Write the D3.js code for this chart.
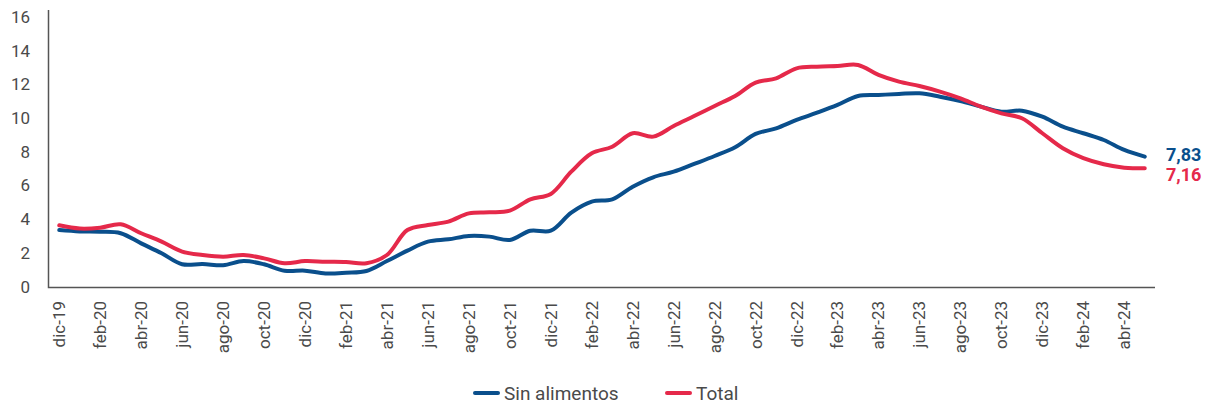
<!DOCTYPE html>
<html>
<head>
<meta charset="utf-8">
<script src="https://cdn.jsdelivr.net/npm/d3@7"></script>
<style>
  body { margin: 0; background: #fff; }
  text { font-family: Roboto, "Liberation Sans", sans-serif; }
</style>
</head>
<body>
<div class="chart"></div>
<script>
// monthly categories, dic-19 .. may-24
const months = ["ene", "feb", "mar", "abr", "may", "jun", "jul", "ago", "sep", "oct", "nov", "dic"];
const categories = ["dic-19"];
for (let y = 20; y <= 24; y++) {
  for (let m = 0; m < 12; m++) {
    if (y === 24 && m > 4) break;
    categories.push(months[m] + "-" + y);
  }
}

// values
const sinAlimentos = [3.36, 3.28, 3.26, 3.17, 2.57, 1.98, 1.33, 1.35, 1.27, 1.52,
  1.33, 0.95, 0.95, 0.79, 0.83, 0.93, 1.52, 2.14, 2.67, 2.81,
  3.01, 2.97, 2.77, 3.32, 3.32, 4.39, 5.04, 5.18, 5.93, 6.49,
  6.82, 7.28, 7.75, 8.27, 9.06, 9.39, 9.89, 10.32, 10.78, 11.31,
  11.37, 11.43, 11.47, 11.27, 11.01, 10.68, 10.38, 10.44, 10.08, 9.49,
  9.10, 8.70, 8.11, 7.71];
const total = [3.64, 3.45, 3.50, 3.70, 3.17, 2.67, 2.08, 1.88, 1.78, 1.88,
  1.68, 1.39, 1.52, 1.48, 1.46, 1.39, 1.88, 3.36, 3.66, 3.86,
  4.35, 4.41, 4.51, 5.18, 5.50, 6.82, 7.91, 8.30, 9.10, 8.90,
  9.53, 10.12, 10.72, 11.31, 12.10, 12.36, 12.95, 13.05, 13.09, 13.15,
  12.56, 12.16, 11.90, 11.57, 11.17, 10.68, 10.28, 9.99, 9.10, 8.21,
  7.62, 7.26, 7.06, 7.02];
const yTicks = [0, 2, 4, 6, 8, 10, 12, 14, 16];
const endLabels = ["7,83", "7,16"];

const series = [
  { name: "Sin alimentos", values: sinAlimentos, color: "#0a4f8c" },
  { name: "Total", values: total, color: "#e5294a" }
];

const width = 1206, height = 404;
const svg = d3.select(".chart").append("svg")
  .attr("width", width)
  .attr("height", height);

const x = d3.scaleBand().domain(categories).range([49, 1155]);
const y = d3.scaleLinear().domain([0, 16]).range([286.7, 16.9]);

// y axis labels
svg.append("g")
  .attr("transform", "translate(30,0)")
  .call(d3.axisLeft(y).tickValues(yTicks).tickSize(0).tickPadding(0))
  .call(g => g.select(".domain").remove())
  .selectAll("text")
  .attr("font-size", 17)
  .attr("fill", "#4a4a4a");

// x axis labels, every second month
svg.append("g")
  .attr("transform", "translate(0,287)")
  .call(d3.axisBottom(x).tickValues(categories.filter((d, i) => i % 2 === 0)).tickSize(0))
  .call(g => g.select(".domain").remove())
  .selectAll("text")
  .attr("font-size", 17)
  .attr("fill", "#4a4a4a")
  .attr("transform", "rotate(-90)")
  .attr("text-anchor", "end")
  .attr("x", -14)
  .attr("y", 0)
  .attr("dy", "0.35em");

// axis lines
svg.append("path")
  .attr("d", `M48.5,10V287.5H1155`)
  .attr("fill", "none")
  .attr("stroke", "#555")
  .attr("stroke-width", 1.5);

const line = d3.line()
  .x((d, i) => x(categories[i]) + x.bandwidth() / 2)
  .y(d => y(d))
  .curve(d3.curveCatmullRom.alpha(0.5));

svg.selectAll(".serie")
  .data(series)
  .join("path")
  .attr("class", "serie")
  .attr("d", d => line(d.values))
  .attr("fill", "none")
  .attr("stroke", d => d.color)
  .attr("stroke-width", 4)
  .attr("stroke-linecap", "round");

// end value labels
svg.selectAll(".endlabel")
  .data(series)
  .join("text")
  .attr("class", "endlabel")
  .attr("x", 1166)
  .attr("y", (d, i) => [161, 181][i])
  .attr("font-size", 18)
  .attr("font-weight", "bold")
  .attr("fill", d => d.color)
  .text((d, i) => endLabels[i]);

// legend
const legend = svg.selectAll(".legend")
  .data(series)
  .join("g")
  .attr("class", "legend")
  .attr("transform", (d, i) => `translate(${[475, 667][i]},393)`);
legend.append("line")
  .attr("x1", 0).attr("x2", 23)
  .attr("stroke", d => d.color)
  .attr("stroke-width", 4)
  .attr("stroke-linecap", "round");
legend.append("text")
  .attr("x", 29)
  .attr("y", 6.5)
  .attr("font-size", 19)
  .attr("fill", "#4a4a4a")
  .text(d => d.name);
</script>
</body>
</html>
